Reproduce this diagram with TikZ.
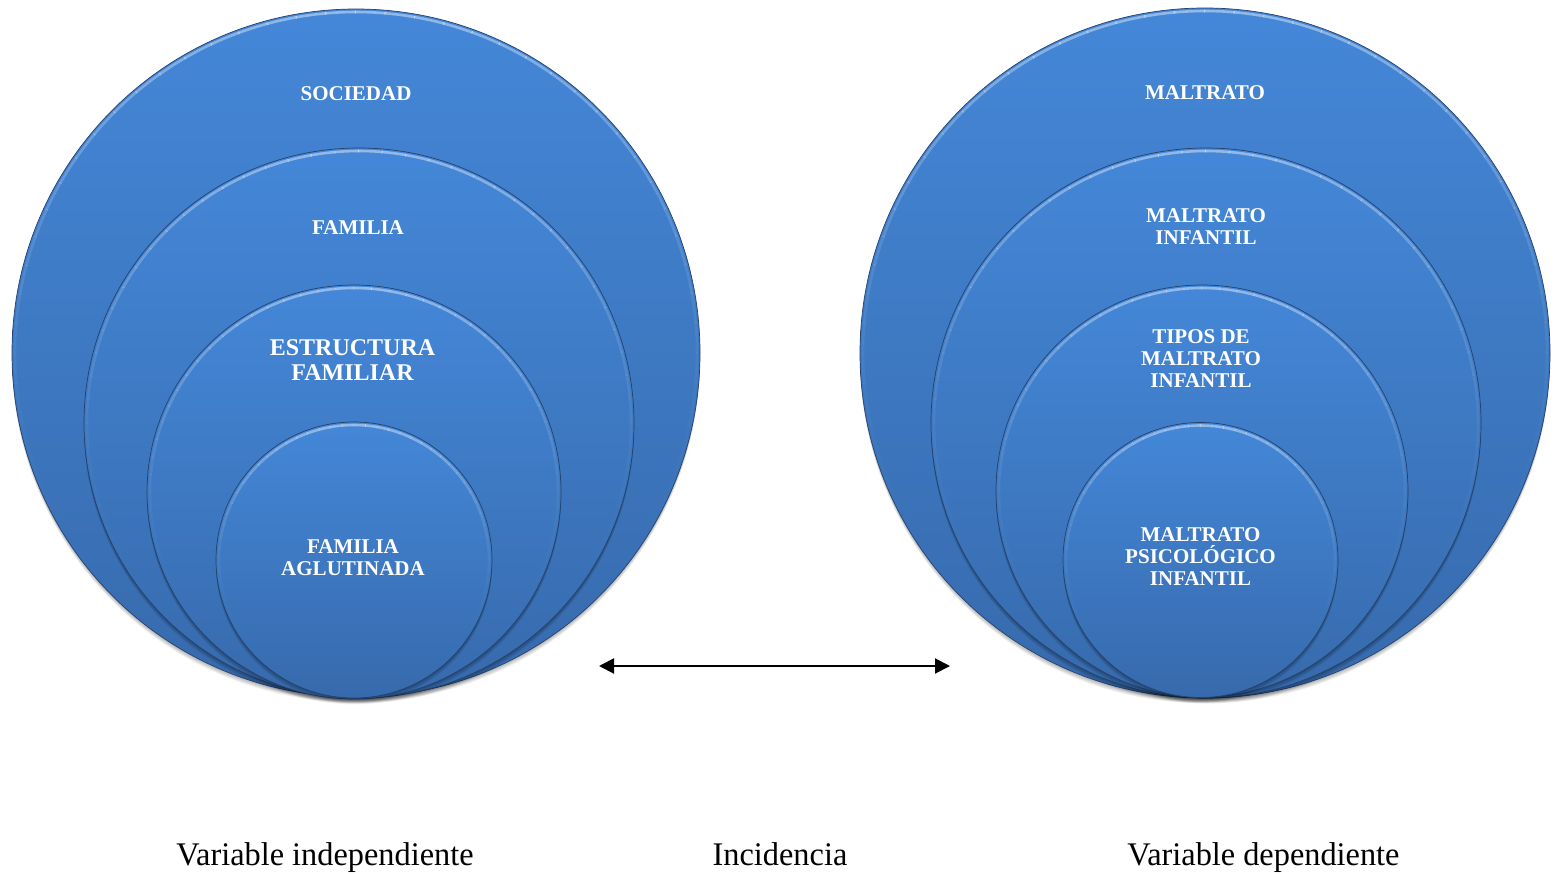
\documentclass[tikz,border=0pt]{standalone}
\usepackage{fontspec}
\setmainfont{Liberation Serif}
\usepackage{graphicx}
\usetikzlibrary{arrows.meta}
\definecolor{btop}{RGB}{68,135,216}
\definecolor{bbot}{RGB}{55,106,172}
\definecolor{bline}{RGB}{36,66,108}
\tikzset{
  lab/.style={text=white, font=\bfseries\fontsize{21}{22}\selectfont, align=center, inner sep=0pt},
  biglab/.style={lab, font=\bfseries\fontsize{24}{25}\selectfont},
  captext/.style={font=\fontsize{33}{36}\selectfont, inner sep=0pt, anchor=base},
  link/.style={line width=2pt, {Triangle[length=15pt,width=15pt]}-{Triangle[length=15pt,width=15pt]}},
  rimline/.style={white, line width=2.6pt, line cap=butt}
}
\newcommand\bubble[4]{%
  \foreach \k in {1,...,6} {\fill[black,opacity=0.05] (#2,#3+\k*0.9) circle[radius=#4pt];}
  \shade[top color=btop, bottom color=bbot] (#2,#3) circle[radius=#4pt];
  \pgfmathsetmacro\rr{#4-3}
  \foreach \a in {-30,-25,...,205} {%
    \pgfmathsetmacro\op{0.42*((1+sin(\a+2.5))/2)^3}
    \draw[rimline, opacity=\op] ({#2+\rr*cos(\a)},{#3-\rr*sin(\a)}) arc[start angle=\a, end angle=\a+5.2, radius=\rr pt];
  }
  \draw[bline, line width=0.7pt] (#2,#3) circle[radius=#4pt];
  \coordinate (#1) at (#2,#3);
}
\begin{document}
\begin{tikzpicture}[x=1pt,y=-1pt]
\fill[white] (0,0) rectangle (1556,875);
\useasboundingbox (0,0) rectangle (1556,875);

% left group
\bubble{L1}{356}{353}{344}
\bubble{L2}{359}{423}{275}
\bubble{L3}{354}{492}{207}
\bubble{L4}{354}{560}{138}
% right group
\bubble{R1}{1205}{353}{345}
\bubble{R2}{1206}{423}{275}
\bubble{R3}{1202}{491}{206}
\bubble{R4}{1200.5}{560}{137.5}

\node[lab] (sociedad) at (356,93.8) {SOCIEDAD};
\node[lab] (familia) at (358,227.5) {FAMILIA};
\node[biglab] (estructura) at (352.5,359.7) {ESTRUCTURA\\FAMILIAR};
\node[lab] (aglutinada) at (353,557.5) {FAMILIA\\AGLUTINADA};

\node[lab] (maltrato) at (1205,92.5) {MALTRATO};
\node[lab] (infantil) at (1206,226.7) {MALTRATO\\INFANTIL};
\node[lab] (tipos) at (1201,358.8) {TIPOS DE\\MALTRATO\\INFANTIL};
\node[lab] (psico) at (1200.5,556.2) {MALTRATO\\PSICOLÓGICO\\INFANTIL};

\coordinate (aL) at (599,666);
\coordinate (aR) at (950,666);
\draw[link] (aL) -- (aR);

\node[captext] (vind) at (325,865) {\scalebox{0.98}[1]{Variable independiente}};
\node[captext] (inc) at (780,865) {\scalebox{0.98}[1]{Incidencia}};
\node[captext] (vdep) at (1263.5,865) {\scalebox{0.98}[1]{Variable dependiente}};
\end{tikzpicture}
\end{document}
